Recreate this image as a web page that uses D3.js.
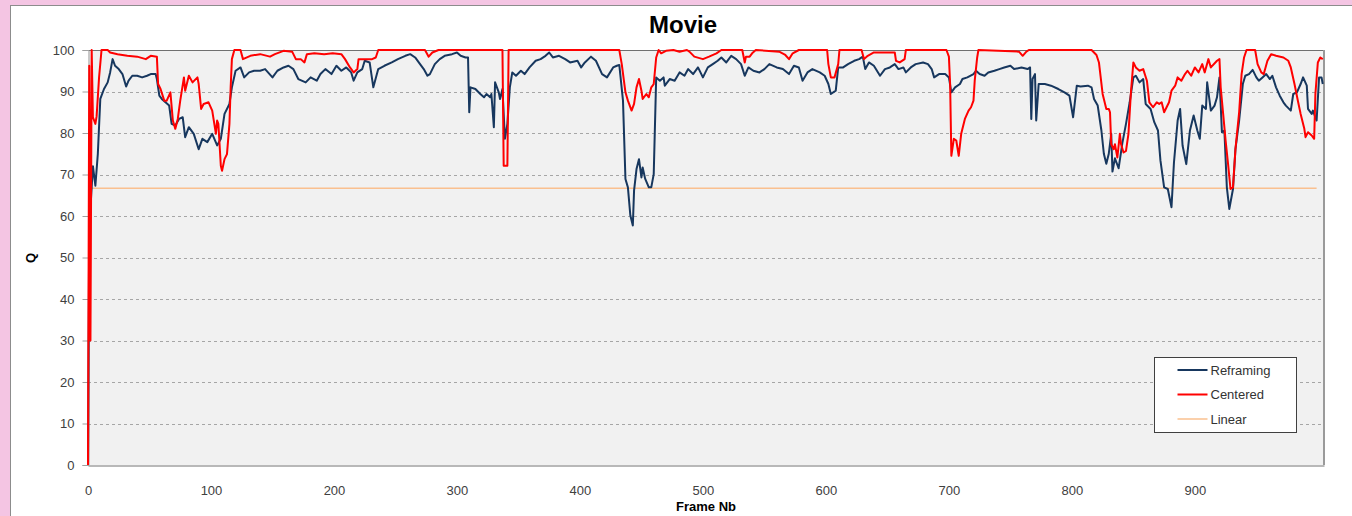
<!DOCTYPE html>
<html>
<head>
<meta charset="utf-8">
<script src="https://cdn.jsdelivr.net/npm/d3@7"></script>
<style>
  body { margin: 0; background: #f4c5e3; }
  svg { display: block; font-family: "Liberation Sans", Arial, sans-serif; }
</style>
</head>
<body>
<svg width="1352" height="516"></svg>
<script>
// [frame, Q] pairs
const reframing = [
  [0,0],[1,57.7],[2,62],[4,72],[6,67.3],[8,75],[10,88.2],[13,90.6],[16,92.2],[18,94.6],[20,97.8],[22,96.2],
  [25,95.4],[28,94.2],[31,91.2],[33,92.6],[36,93.8],[40,93.8],[44,93.4],[48,93.8],[51,94.2],[55,94.2],[56,93],
  [58,89],[60,88.2],[63,87.4],[66,86.6],[68,82.2],[71,81.8],[74,83.4],[77,83.8],[79,79],[82,81.4],[86,79.8],
  [90,76.1],[93,78.6],[97,77.8],[101,79.8],[105,77],[108,78.6],[111,84.6],[115,87],[117,91],[120,95],[124,95.8],
  [127,93.4],[131,94.6],[135,95],[140,95],[144,95.4],[150,93.4],[154,95],[159,95.8],[163,96.2],[167,95.4],
  [171,93],[177,92.2],[181,93.4],[186,92.6],[189,94.2],[193,95.4],[198,94.2],[202,96.2],[206,95],[210,95.8],
  [214,94.6],[216,92.6],[219,94.6],[223,95.4],[225,97.4],[229,97],[232,91],[236,95.4],[241,96.2],[247,97],
  [252,97.8],[258,98.6],[262,99],[266,98.2],[270,96.6],[273,95.4],[276,93.8],[278,94.2],[282,96.6],[286,97.8],
  [290,98.6],[296,99],[300,99.4],[303,98.6],[307,98.2],[309,98.2],[310,85],[311,91],[315,90.6],[319,89.4],
  [322,88.6],[324,89.4],[327,88.6],[328,89.4],[330,81.4],[331,92.2],[334,89.8],[335,88.2],[337,90.6],[339,78.6],
  [341,82.2],[343,91],[345,94.6],[348,93.8],[352,95],[355,94.2],[359,95.8],[364,97.4],[368,97.8],[372,98.6],
  [375,99.4],[378,98.2],[383,98.6],[388,97.8],[392,97],[398,97.4],[401,95.8],[404,97],[409,98.4],[413,97.4],
  [418,94.2],[422,93.4],[427,95.8],[430,96.2],[432,96.4],[435,87.8],[437,68.9],[439,66.9],[441,60.1],[443,57.7],
  [444,66.1],[446,71.3],[448,73.7],[450,69.3],[451,71.7],[453,69],[456,66.9],[458,66.9],[460,70.1],[462,93.4],
  [465,92.6],[468,93.4],[469,91.4],[473,93],[477,92.6],[481,94.6],[485,93.8],[488,95.4],[492,94.2],[496,95.8],
  [500,93.4],[504,95.8],[508,96.6],[512,97.4],[515,98.2],[519,97],[523,98.6],[527,97.8],[531,96.6],[534,93.8],
  [537,95.8],[541,95],[546,94.6],[550,95.4],[554,96.6],[560,95.8],[565,95.4],[570,94.2],[574,96.2],[578,95.8],
  [581,92.6],[585,94.6],[589,95.4],[595,94.6],[599,93.8],[602,91.8],[604,89.4],[608,90.2],[610,95.8],[614,95.8],
  [618,96.6],[623,97.4],[627,97.8],[630,98.4],[632,95.4],[635,97],[639,96.2],[644,93.8],[648,95.4],[652,95.8],
  [656,96.6],[659,95.4],[663,95.8],[665,94.6],[669,95.8],[673,96.6],[679,97],[683,96.6],[686,95.4],[688,93.4],
  [692,94.2],[697,94.2],[700,93.4],[702,89.8],[705,91],[709,91.8],[711,93],[715,93.4],[720,94.2],[722,95],
  [725,94.2],[729,93.8],[732,94.6],[737,95],[741,95.4],[745,95.8],[750,96.2],[753,95.4],[759,95.8],[764,95.4],
  [766,95.8],[767,83.4],[768,93],[770,94.2],[771,83],[773,91.8],[778,91.8],[783,91.4],[789,90.6],[794,89.8],
  [798,89],[801,83.8],[804,91.4],[807,91.2],[813,91.4],[816,91],[818,88.2],[821,86.6],[824,80.6],[826,75],
  [828,72.6],[830,75],[832,79.8],[833,70.7],[835,73.9],[838,71.5],[841,77.5],[844,82.2],[847,87.4],[850,93.4],
  [852,93.8],[855,92.2],[858,93],[860,87],[864,85.8],[867,82.6],[870,80.6],[872,73.4],[875,66.9],[878,66.5],
  [881,62.1],[883,72.9],[886,83],[888,85.8],[890,77],[893,72.5],[896,80.6],[899,84.2],[902,80.6],[904,78.6],
  [906,86.6],[909,85.8],[910,92.2],[913,85.4],[916,86.6],[918,88.6],[920,93.4],[922,80.2],[924,80.6],[926,66.9],
  [928,61.7],[931,66.5],[933,76.1],[936,83],[939,91.8],[941,93.8],[944,94.2],[947,95.2],[950,93.4],[952,92.6],
  [955,93.4],[958,94.2],[961,93],[963,93.8],[966,91],[969,89],[972,87.4],[974,86.6],[978,85.4],[980,89.4],
  [983,89.8],[986,91.8],[988,93.4],[991,91.4],[992,85.8],[995,84.6],[996,85.4],[999,83],[1001,93.4],[1003,93.4],
  [1004,91.8]
];

const centered = [
  [0,0],[1,96.2],[2,30],[3,100],[4,83.8],[6,82.2],[7,84],[9,93.4],[11,100],[16,100],[18,99.4],[24,99],
  [32,98.6],[40,98.4],[47,97.8],[51,98.6],[56,98.4],[57,91.8],[59,90.6],[62,87.8],[64,87.8],[67,89.8],[69,83],
  [71,81],[73,83.4],[75,87.8],[78,93.4],[79,90.2],[82,93.8],[85,92.2],[89,93.4],[90,91.8],[92,85.8],[94,87],
  [98,87.4],[101,85.4],[104,79.8],[105,83],[106,82.2],[108,72.1],[109,70.9],[111,73.7],[113,74.9],[115,82.2],
  [116,91],[117,97.8],[119,100],[124,100],[126,97.8],[132,98.6],[140,99],[148,98.4],[152,99],[159,99.8],
  [166,99.6],[169,97.8],[173,97.8],[176,97],[178,99],[184,99.2],[192,99],[199,99.2],[206,99],[209,97.8],
  [213,95.8],[216,94.6],[219,95.4],[220,97.8],[231,97.8],[234,98.2],[236,100],[274,100],[277,98.4],[280,99.4],
  [285,100],[337,100],[338,72.1],[341,72.1],[342,100],[432,100],[434,96.6],[437,89.8],[439,87.8],[442,85.4],
  [444,87],[446,91],[448,93],[450,90.2],[451,88.2],[454,89.4],[456,88.6],[458,91],[460,91.8],[462,98.2],
  [464,100],[466,99.2],[470,99.8],[476,100],[481,99.6],[487,100],[489,99.6],[493,98.4],[500,97.8],[505,98.4],
  [511,99.2],[515,100],[532,100],[534,97],[535,98.4],[538,98.4],[540,99.2],[543,100],[562,99.6],[567,98.8],
  [570,97.8],[573,99.2],[578,100],[601,100],[602,96.6],[604,93.4],[607,93.4],[610,96.6],[611,100],[629,100],
  [631,97.8],[634,98.6],[639,99.4],[656,99.4],[657,97.4],[660,97],[664,97.8],[665,100],[698,100],[700,98.4],
  [701,91.8],[702,74.5],[704,78.6],[706,78.2],[708,74.5],[710,79.8],[713,83.4],[716,85.4],[718,86.2],[720,87.8],
  [721,92.6],[723,98.2],[724,100],[757,99.6],[760,98.6],[763,99.6],[765,100],[816,100],[820,98.8],[822,97],
  [825,89.4],[828,85.8],[830,85.8],[831,85],[832,77.3],[834,76.1],[835,77.3],[837,74.1],[839,79.8],[840,77.3],
  [842,75.3],[844,75.7],[846,79.8],[848,89.8],[850,97],[852,95.8],[855,95],[858,95.4],[861,92.6],[863,87.4],
  [866,86.2],[869,87.4],[871,87],[873,87.4],[875,85],[877,86.2],[879,87.4],[881,90.2],[884,91.4],[886,93.4],
  [889,92.6],[892,94.2],[894,95],[897,93.8],[900,95.8],[903,94.6],[906,96.6],[908,94.6],[911,97.8],[913,95.8],
  [918,97.4],[920,97.8],[921,91],[923,84.6],[925,78.2],[927,72.5],[929,66.5],[931,66.9],[933,76.1],[936,85],
  [938,94.2],[940,98.2],[942,100],[949,100],[951,96.6],[954,94.6],[956,94.2],[959,97.4],[962,99],[966,98.6],
  [972,98.2],[976,97.4],[978,95.8],[981,91.8],[984,87.4],[986,84.6],[989,81],[990,79],[992,80.2],[995,79.4],
  [997,78.6],[998,89.4],[1000,97],[1002,98.2],[1004,97.8]
];

const linear = [[0,66.67],[999,66.67]];

const yTicks = [0,10,20,30,40,50,60,70,80,90,100];
const xTicks = [0,100,200,300,400,500,600,700,800,900];

const series = [
  {name: "Reframing", data: reframing, color: "#17375e", width: 2},
  {name: "Centered", data: centered, color: "#ff0000", width: 2},
  {name: "Linear", data: linear, color: "#fac08f", width: 1.5}
];

const svg = d3.select("svg");
const plotLeft = 88, plotRight = 1324, plotTop = 50, plotBottom = 465;

const x = d3.scaleLinear().domain([0, 1005]).range([plotLeft, plotRight]);
const y = d3.scaleLinear().domain([0, 100]).range([plotBottom, plotTop]);

// chart area
svg.append("rect")
  .attr("x", 10.5).attr("y", 5.5)
  .attr("width", 1400).attr("height", 600)
  .attr("fill", "#fff").attr("stroke", "#8c8c8c");

// plot area
svg.append("rect")
  .attr("x", plotLeft).attr("y", plotTop)
  .attr("width", plotRight - plotLeft).attr("height", plotBottom - plotTop)
  .attr("fill", "#f1f1f1");

svg.append("g")
  .selectAll("line")
  .data(yTicks.filter(d => d > 0 && d < 100))
  .join("line")
  .attr("x1", plotLeft).attr("x2", plotRight)
  .attr("y1", d => Math.round(y(d)) + 0.5).attr("y2", d => Math.round(y(d)) + 0.5)
  .attr("stroke", "#a6a6a6")
  .attr("stroke-dasharray", "3,3");

svg.append("line")
  .attr("x1", plotLeft).attr("x2", plotRight).attr("y1", plotTop + 0.5).attr("y2", plotTop + 0.5)
  .attr("stroke", "#707070");
svg.append("line")
  .attr("x1", plotRight).attr("x2", plotRight).attr("y1", plotTop).attr("y2", plotBottom)
  .attr("stroke", "#9a9a9a").attr("stroke-width", 2);

const yAxis = svg.append("g")
  .attr("transform", `translate(${plotLeft + 0.5},0)`)
  .call(d3.axisLeft(y).tickValues(yTicks).tickSize(6).tickPadding(8));
yAxis.selectAll("path, line").attr("stroke", "#a0a0a0");

const xAxis = svg.append("g")
  .attr("transform", `translate(0,${plotBottom + 0.5})`)
  .call(d3.axisBottom(x).tickValues(xTicks).tickSize(0).tickPadding(20));
xAxis.select("path").attr("stroke", "#a0a0a0").attr("stroke-width", 1.5);

svg.selectAll(".tick text")
  .attr("fill", "#404040")
  .style("font-size", "13px")
  .style("font-family", "'Liberation Sans', Arial, sans-serif");

const line = d3.line()
  .x(d => x(d[0]))
  .y(d => y(d[1]));

svg.append("g")
  .selectAll("path")
  .data([series[2], series[0], series[1]])
  .join("path")
  .attr("d", d => line(d.data))
  .attr("fill", "none")
  .attr("stroke", d => d.color)
  .attr("stroke-width", d => d.width)
  .attr("stroke-linejoin", "round");

// titles
svg.append("text")
  .attr("x", 683).attr("y", 33)
  .attr("text-anchor", "middle")
  .style("font-size", "24px").style("font-weight", "bold")
  .text("Movie");

svg.append("text")
  .attr("transform", "translate(35,258) rotate(-90)")
  .attr("text-anchor", "middle")
  .style("font-size", "13px").style("font-weight", "bold")
  .text("Q");

svg.append("text")
  .attr("x", 706).attr("y", 511)
  .attr("text-anchor", "middle")
  .style("font-size", "13px").style("font-weight", "bold")
  .text("Frame Nb");

// legend
const legend = svg.append("g").attr("transform", "translate(1154.5,357.5)");
legend.append("rect")
  .attr("width", 142).attr("height", 75)
  .attr("fill", "#fff").attr("stroke", "#404040");

const item = legend.selectAll("g")
  .data(series)
  .join("g")
  .attr("transform", (d, i) => `translate(0,${12.5 + i * 24.5})`);
item.append("line")
  .attr("x1", 23).attr("x2", 53)
  .attr("stroke", d => d.color)
  .attr("stroke-width", d => d.width);
item.append("text")
  .attr("x", 56).attr("dy", "0.35em")
  .attr("fill", "#333")
  .style("font-size", "13px")
  .text(d => d.name);
</script>
</body>
</html>
